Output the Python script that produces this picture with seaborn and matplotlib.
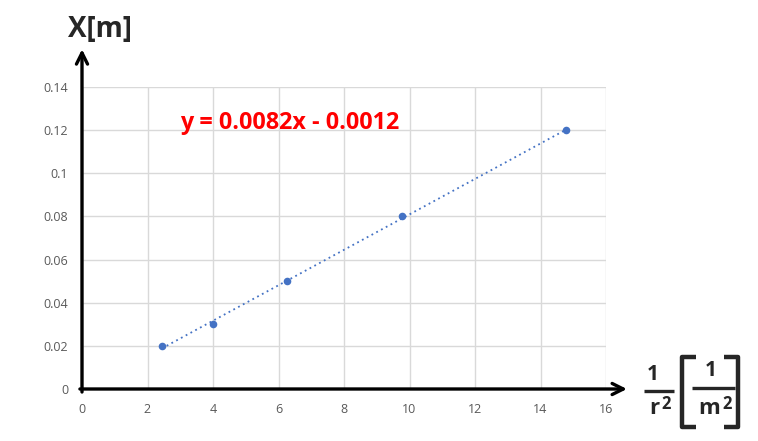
#!/usr/bin/env python3
"""Scatter of X against 1/r^2 with a dotted linear trendline."""

import matplotlib

matplotlib.use("Agg")
import matplotlib.pyplot as plt
import numpy as np
import pandas as pd
import seaborn as sns
from matplotlib.lines import Line2D

INV_R2 = [2.44, 4.0, 6.25, 9.77, 14.79]
X_M = [0.02, 0.03, 0.05, 0.08, 0.12]
X_TICKS = [0, 2, 4, 6, 8, 10, 12, 14, 16]
Y_TICKS = [0, 0.02, 0.04, 0.06, 0.08, 0.1, 0.12, 0.14]
Y_TICK_LABELS = ["0", "0.02", "0.04", "0.06", "0.08", "0.1", "0.12", "0.14"]
EQUATION = "y = 0.0082x - 0.0012"

BLUE = "#4472C4"
INK = "#262626"
W, H = 758, 441

sns.set_style("whitegrid")
plt.rcParams["font.family"] = ["Open Sans", "DejaVu Sans"]

data = pd.DataFrame({"inv_r2": INV_R2, "x": X_M})
slope, intercept = np.polyfit(INV_R2, X_M, 1)
trend = pd.DataFrame({"inv_r2": [min(INV_R2), max(INV_R2)]})
trend["x"] = slope * trend["inv_r2"] + intercept

fig = plt.figure(figsize=(W / 100, H / 100), dpi=100)
ax = fig.add_axes([82 / W, 1 - 389 / H, 524 / W, 302 / H])

sns.lineplot(data=trend, x="inv_r2", y="x", color=BLUE, linestyle=(0, (1, 2)), linewidth=1.3, ax=ax)
sns.scatterplot(data=data, x="inv_r2", y="x", color=BLUE, s=30, edgecolor=BLUE, linewidth=0, zorder=3, ax=ax)

ax.set_xlim(0, 16)
ax.set_ylim(0, 0.14)
ax.set_xticks(X_TICKS)
ax.set_yticks(Y_TICKS)
ax.set_yticklabels(Y_TICK_LABELS)
ax.set(xlabel="", ylabel="")
ax.tick_params(length=0, labelsize=9, colors="#595959", pad=10)
ax.grid(color="#d9d9d9", linewidth=1)
for side in ax.spines.values():
    side.set_visible(False)

# axis arrows
arrow = dict(arrowstyle="->", color="black", lw=2.4, mutation_scale=20, shrinkA=0, shrinkB=0)
ax.annotate("", xy=(0, 1.125), xytext=(0, -0.01), xycoords="axes fraction", arrowprops=arrow)
ax.annotate("", xy=(1.04, 0), xytext=(-0.004, 0), xycoords="axes fraction", arrowprops=arrow)

ax.text(3.0, 0.1232, EQUATION, fontsize=16.8, fontweight="bold", color="#FF0000",
        ha="left", va="center")


def px_text(x, y, s, size=15, **kw):
    """Place bold text at a pixel position from the top-left corner."""
    fig.text(x / W, 1 - y / H, s, fontsize=size, fontweight="bold", color=INK,
             ha="center", va="center", **kw)


def px_line(xs, ys, lw=2.0):
    """Draw a line in pixel coordinates from the top-left corner."""
    fig.add_artist(Line2D([x / W for x in xs], [1 - y / H for y in ys], color=INK,
                          lw=lw, transform=fig.transFigure, solid_capstyle="butt"))


px_text(100, 30, "X[m]", size=20)

# x-axis label: 1/r^2 [1/m^2]
px_text(653, 375, "1")
px_line([644, 674], [391, 391], lw=2.4)
px_text(654, 408, "r", size=16)
px_text(666, 404, "2", size=12)
px_line([696, 682, 682, 696], [357, 357, 427, 427], lw=3.2)
px_line([724, 738, 738, 724], [357, 357, 427, 427], lw=3.2)
px_text(711, 371, "1")
px_line([692, 735], [388, 388], lw=2.4)
px_text(709, 408, "m", size=16)
px_text(727, 404, "2", size=12)

fig.savefig("out.png", dpi=100)
